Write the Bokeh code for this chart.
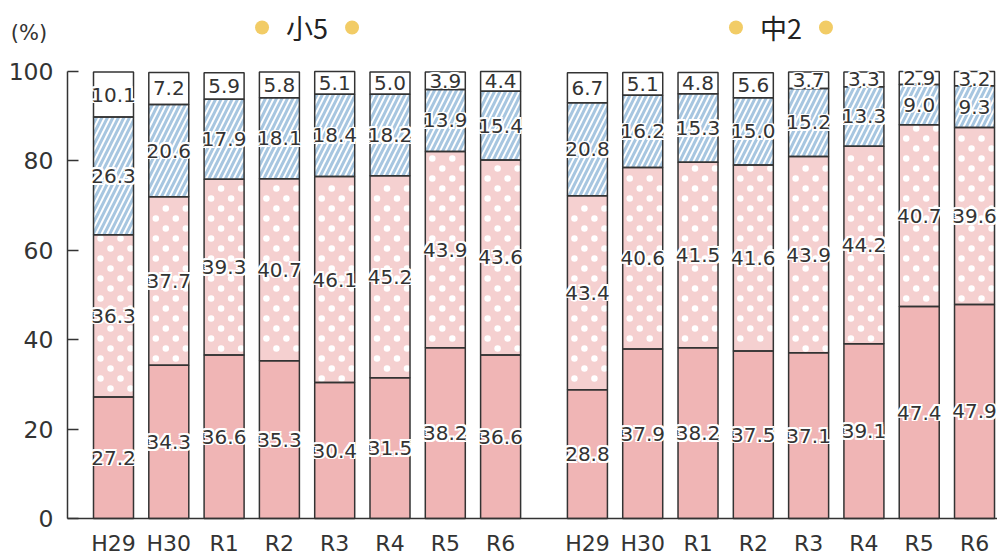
from bokeh.plotting import figure
from bokeh.models import ColumnDataSource, FixedTicker, LinearAxis
from bokeh.core.properties import value
from bokeh.embed import file_html
from bokeh.resources import INLINE

years = ["H29", "H30", "R1", "R2", "R3", "R4", "R5", "R6"]
groups = ["小5", "中2"]

e5_solid = [27.2, 34.3, 36.6, 35.3, 30.4, 31.5, 38.2, 36.6]
e5_dots = [36.3, 37.7, 39.3, 40.7, 46.1, 45.2, 43.9, 43.6]
e5_hatch = [26.3, 20.6, 17.9, 18.1, 18.4, 18.2, 13.9, 15.4]
e5_white = [10.1, 7.2, 5.9, 5.8, 5.1, 5.0, 3.9, 4.4]

j2_solid = [28.8, 37.9, 38.2, 37.5, 37.1, 39.1, 47.4, 47.9]
j2_dots = [43.4, 40.6, 41.5, 41.6, 43.9, 44.2, 40.7, 39.6]
j2_hatch = [20.8, 16.2, 15.3, 15.0, 15.2, 13.3, 9.0, 9.3]
j2_white = [6.7, 5.1, 4.8, 5.6, 3.7, 3.3, 2.9, 3.2]

y_ticks = [0, 20, 40, 60, 80, 100]
unit_label = "(%)"

# ---- layout parameters (the frame covers the whole canvas) ----
W, H = 997, 553
GROUP_OFFSET = 8.57
PPX = 55.3            # pixels per category step
PPY = 4.47            # pixels per percent
X0_PX, Y0_PX = 113, 518   # pixel position of first bar centre / zero line
X_START = -X0_PX / PPX
X_END = X_START + W / PPX
Y_START = -(H - Y0_PX) / PPY
Y_END = Y0_PX / PPY
YAXIS_X = X_START + 67 / PPX
BAR_W = 40 / PPX

C_SOLID = "#F0B5B5"
C_DOTS = "#F5D0D0"
C_BLUE = "#A7C6E0"
C_LINE = "#333333"
C_TEXT = "#333333"
C_YELLOW = "#F2CC66"

xs, labels = [], []
seg = {k: [] for k in ("solid", "dots", "hatch", "white")}
series = [(e5_solid, e5_dots, e5_hatch, e5_white), (j2_solid, j2_dots, j2_hatch, j2_white)]
for gi, (s, d, h, w) in enumerate(series):
    for i, yr in enumerate(years):
        xs.append(gi * GROUP_OFFSET + i)
        labels.append(yr)
        seg["solid"].append(s[i])
        seg["dots"].append(d[i])
        seg["hatch"].append(h[i])
        seg["white"].append(w[i])

b0 = [0.0] * len(xs)
t0 = seg["solid"]
t1 = [a + b for a, b in zip(t0, seg["dots"])]
t2 = [a + b for a, b in zip(t1, seg["hatch"])]
t3 = [a + b for a, b in zip(t2, seg["white"])]

src = ColumnDataSource(dict(x=xs, b0=b0, t0=t0, t1=t1, t2=t2, t3=t3))

p = figure(width=W, height=H, output_backend="svg", toolbar_location=None,
           x_range=(X_START, X_END), y_range=(Y_START, Y_END),
           x_axis_location=None, y_axis_location=None,
           min_border_left=0, min_border_right=0, min_border_top=0, min_border_bottom=0)
p.outline_line_color = None
p.grid.visible = False
p.background_fill_color = "white"
p.border_fill_color = "white"

# fills
p.vbar(x="x", bottom="b0", top="t0", width=BAR_W, source=src, fill_color=C_SOLID, line_color=None)
p.vbar(x="x", bottom="t0", top="t1", width=BAR_W, source=src, fill_color=C_DOTS, line_color=None)
p.vbar(x="x", bottom="t1", top="t2", width=BAR_W, source=src, fill_color=C_BLUE, line_color=None,
       hatch_pattern="right_diagonal_line", hatch_color="white", hatch_scale=11, hatch_weight=1.9)
p.vbar(x="x", bottom="t2", top="t3", width=BAR_W, source=src, fill_color="white", line_color=None)

# staggered white dots in dotted segment
dx_u = 1.0 / PPX
dy_u = 10.0 / PPY
margin = 3.5 / PPY
dot_x, dot_y = [], []
for x, lo, hi in zip(xs, t0, t1):
    k = int(lo / dy_u)
    while k * dy_u < hi:
        y = k * dy_u
        if lo + margin < y < hi - margin:
            offs = (-13, 7) if k % 2 == 0 else (-3, 17)
            for o in offs:
                dot_x.append(x + o * dx_u)
                dot_y.append(y)
        k += 1
p.scatter(dot_x, dot_y, size=6.5, marker="circle", fill_color="white", line_color=None)

# outlines
for bot, top in (("b0", "t0"), ("t0", "t1"), ("t1", "t2"), ("t2", "t3")):
    p.vbar(x="x", bottom=bot, top=top, width=BAR_W, source=src, fill_alpha=0,
           line_color=C_LINE, line_width=1.5)

# value labels with white outline
lx, ly, lt = [], [], []
for i, x in enumerate(xs):
    for lo, hi, v in ((b0[i], t0[i], seg["solid"][i]), (t0[i], t1[i], seg["dots"][i]),
                      (t1[i], t2[i], seg["hatch"][i]), (t2[i], t3[i], seg["white"][i])):
        lx.append(x)
        ly.append((lo + hi) / 2)
        lt.append(f"{v:.1f}")
lsrc = ColumnDataSource(dict(x=lx, y=ly, t=lt))
font = value("DejaVu Sans")
FS = "20px"
for ox in (-1.7, 0, 1.7):
    for oy in (-1.7, 0, 1.7):
        if ox == 0 and oy == 0:
            continue
        p.text(x="x", y="y", text="t", source=lsrc, x_offset=ox, y_offset=oy,
               text_font=font, text_font_size=FS, text_color="white",
               text_align="center", text_baseline="middle")
p.text(x="x", y="y", text="t", source=lsrc, text_font=font, text_font_size=FS,
       text_color=C_TEXT, text_align="center", text_baseline="middle")

# group titles
title_y = 100 + 44 / PPY
for gi, g in enumerate(groups):
    cx = gi * GROUP_OFFSET + (len(years) - 1) / 2
    p.text(x=[cx], y=[title_y], text=[g], text_font=value("Noto Sans CJK JP"),
           text_font_size="27px", text_color="#222222", text_align="center",
           text_baseline="middle")
    p.scatter([cx - 45 * dx_u, cx + 45 * dx_u], [title_y, title_y], size=14,
              marker="circle", fill_color=C_YELLOW, line_color=None)

# unit label
p.text(x=[X_START + 28.5 / PPX], y=[100 + 39 / PPY], text=[unit_label], text_font=font,
       text_font_size="21px", text_color=C_TEXT, text_align="center", text_baseline="middle")

# axes (drawn at fixed locations inside the frame)
ya = LinearAxis(fixed_location=YAXIS_X, bounds=(0, 100), ticker=FixedTicker(ticks=y_ticks))
ya.major_tick_in = 11
ya.major_tick_out = 0
ya.minor_tick_line_color = None
ya.axis_line_color = C_LINE
ya.axis_line_width = 1.5
ya.major_tick_line_color = C_LINE
ya.major_tick_line_width = 1.5
ya.major_label_text_font = "DejaVu Sans"
ya.major_label_text_font_size = "23.5px"
ya.major_label_text_color = C_TEXT
ya.major_label_standoff = 14
p.add_layout(ya, "left")

xa = LinearAxis(fixed_location=0, bounds=(YAXIS_X, X_END), ticker=FixedTicker(ticks=xs))
xa.major_label_overrides = {x: l for x, l in zip(xs, labels)}
xa.major_tick_in = 0
xa.major_tick_out = 0
xa.minor_tick_line_color = None
xa.axis_line_color = C_LINE
xa.axis_line_width = 1.5
xa.major_label_text_font = "DejaVu Sans"
xa.major_label_text_font_size = "22px"
xa.major_label_text_color = C_TEXT
xa.major_label_standoff = 12
p.add_layout(xa, "below")

open("out.html", "w").write(file_html(p, INLINE))
